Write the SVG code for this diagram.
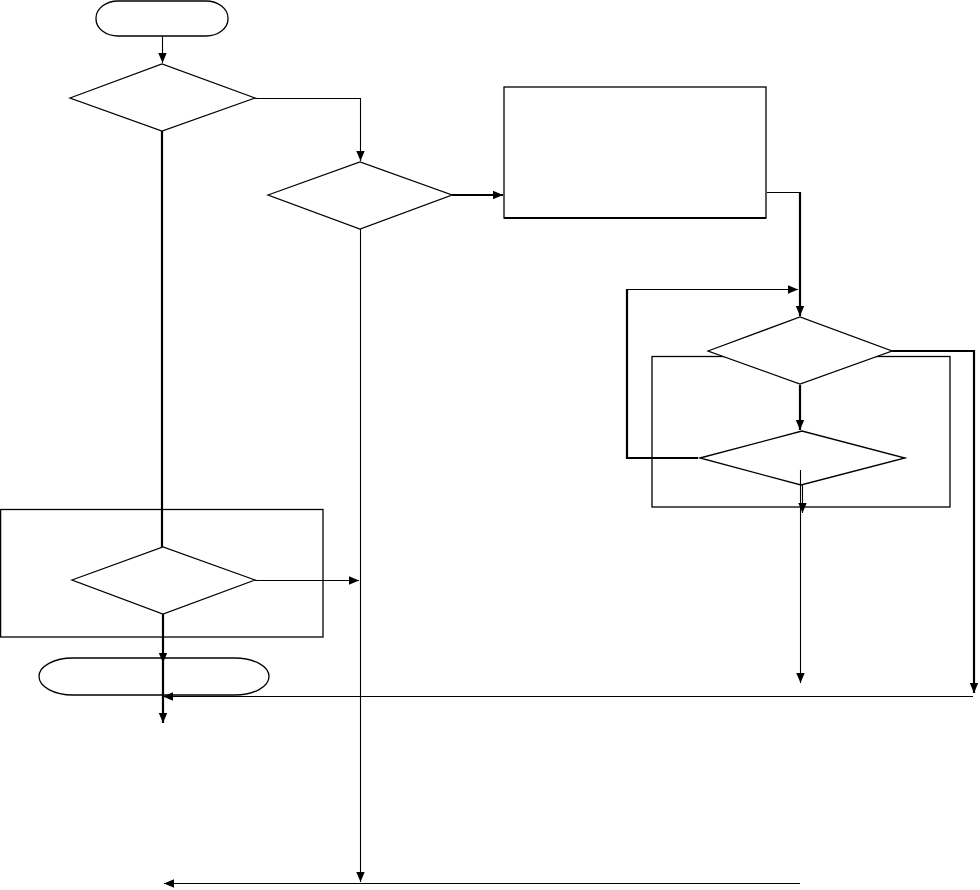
<svg xmlns="http://www.w3.org/2000/svg" width="980" height="890" viewBox="0 0 980 890">
<style>
.shape{fill:#fff;stroke:#000;stroke-width:1.3}
.open{fill:none;stroke:#000;stroke-width:1.3}
.c{fill:none;stroke:#000;stroke-width:1.1}
.t{fill:none;stroke:#000;stroke-width:2.2}
</style>
<defs>
<marker id="ah" markerUnits="userSpaceOnUse" markerWidth="10" markerHeight="10" viewBox="0 0 10 10" refX="10" refY="5" orient="auto"><path d="M0,0.8 L10,5 L0,9.2 z" fill="#000"/></marker>
</defs>
<rect width="980" height="890" fill="#fff"/>
<g id="box3"><rect class="shape" x="0.6" y="509.5" width="322.4" height="127.5"/></g>
<g id="box2"><rect class="open" x="652" y="356.5" width="298" height="150.5"/></g>
<g id="start"><rect class="shape" x="96" y="1" width="132" height="35" rx="22" ry="17"/></g>
<g id="d1"><polygon class="shape" points="70,98 162,64 255,98 162,131"/></g>
<g id="d2"><polygon class="shape" points="268,195 360,162 452,195 360,229"/></g>
<g id="box1"><rect class="shape" x="504" y="87" width="262" height="131"/><line x1="504" y1="218" x2="766" y2="218" stroke="#000" stroke-width="2"/></g>
<g id="d3"><polygon class="shape" points="708,351 800,317 892,351 800,384"/></g>
<g id="d4"><polygon class="shape" points="700,458 802,431 905,458 801,485"/></g>
<g id="d5"><polygon class="shape" points="72,580 163,547 255,580 163,614"/></g>
<g id="end"><rect class="open" x="39" y="658" width="230" height="37" rx="34" ry="18.5"/></g>
<g id="connectors">
<path class="c" d="M162.5,36 V63" marker-end="url(#ah)"/>
<path class="c" d="M255,98.5 H360.5 V161" marker-end="url(#ah)"/>
<path class="t" d="M452,195 H503" marker-end="url(#ah)"/>
<path class="c" d="M767,192.5 H800"/>
<path class="t" d="M800,192 V316" marker-end="url(#ah)"/>
<path class="t" d="M698,458 H627 V289"/>
<path class="c" d="M627,289.5 H798" marker-end="url(#ah)"/>
<path class="t" d="M800,385 V430" marker-end="url(#ah)"/>
<path class="t" d="M892,351 H974 V693" marker-end="url(#ah)"/>
<path class="c" d="M800.5,470 V683" marker-end="url(#ah)"/>
<path class="c" d="M802.5,485 V513" marker-end="url(#ah)"/>
<path class="c" d="M973,696.5 H163" marker-end="url(#ah)"/>
<path class="t" d="M162,131 V547"/>
<path class="c" d="M255,580.5 H359" marker-end="url(#ah)"/>
<path class="c" d="M360.5,229 V882" marker-end="url(#ah)"/>
<path class="c" d="M800,883.5 H164" marker-end="url(#ah)"/>
<path class="t" d="M163,614 V663" marker-end="url(#ah)"/>
<path class="t" d="M163,663 V723" marker-end="url(#ah)"/>
</g>
</svg>
